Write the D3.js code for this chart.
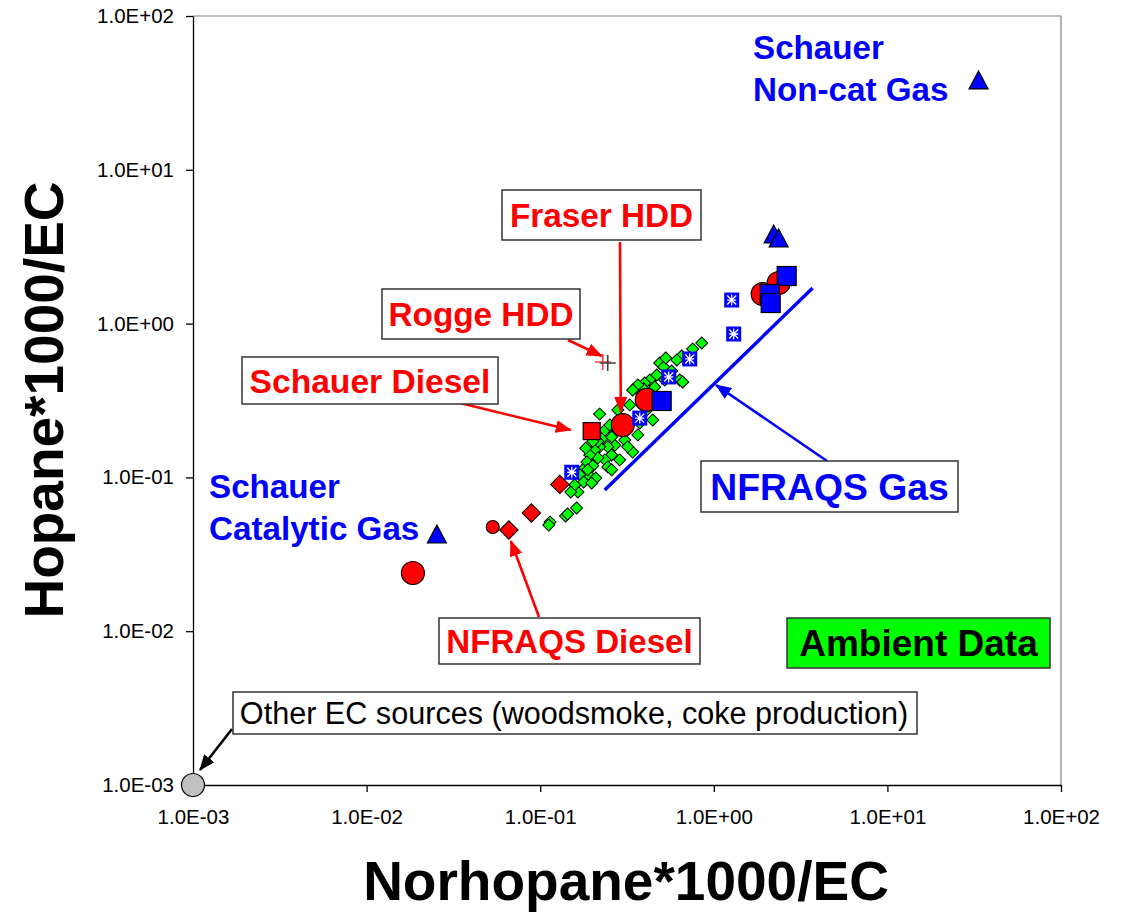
<!DOCTYPE html>
<html>
<head>
<meta charset="utf-8">
<script src="https://cdn.jsdelivr.net/npm/d3@7"></script>
<style>
  body { margin: 0; background: #fff; }
  text { font-family: "Liberation Sans", Arial, sans-serif; }
</style>
</head>
<body>
<svg id="chart" width="1122" height="914"></svg>
<script>
// ---- data (norhopane*1000/EC, hopane*1000/EC) ----
const tickValues = [1e-3, 1e-2, 1e-1, 1, 10, 100];
const tickLabels = ["1.0E-03", "1.0E-02", "1.0E-01", "1.0E+00", "1.0E+01", "1.0E+02"];

const ambient = [
  [0.852,0.748],[0.756,0.683],[0.653,0.615],[0.612,0.580],[0.488,0.555],[0.515,0.522],
  [0.636,0.430],[0.572,0.492],[0.469,0.463],[0.428,0.430],[0.400,0.411],[0.355,0.381],
  [0.395,0.376],[0.457,0.387],[0.445,0.236],[0.365,0.189],[0.341,0.146],[0.220,0.258],
  [0.280,0.274],[0.375,0.226],[0.307,0.175],[0.269,0.162],[0.245,0.158],[0.220,0.158],
  [0.206,0.151],[0.258,0.140],[0.287,0.130],[0.236,0.130],[0.215,0.134],[0.193,0.140],
  [0.186,0.126],[0.201,0.119],[0.245,0.117],[0.176,0.112],[0.193,0.102],[0.169,0.104],
  [0.178,0.0934],[0.165,0.0804],[0.162,0.0633],[0.140,0.0561],[0.144,0.0578],[0.114,0.0512],
  [0.112,0.0490],[0.307,0.213],[0.328,0.296],[0.416,0.343],[0.522,0.430],[0.411,0.274],
  [0.269,0.197],[0.229,0.180],[0.215,0.172],[0.258,0.112],[0.158,0.0892],[0.183,0.155],
  [0.201,0.172],[0.236,0.203],[0.258,0.183],[0.319,0.158],[0.252,0.219],[0.188,0.112],
  [0.209,0.099],[0.150,0.0804],[0.198,0.092],[0.529,0.598],[0.662,0.417],[0.365,0.399],
  [0.341,0.370]
];
const nfraqsDiesel = [[0.0660,0.0455],[0.0889,0.0587],[0.1297,0.0900]];
const otherDiesel = [[0.0533,0.0476]];
const schauerDiesel = [[0.198,0.200]];
const fraserHDD = [[0.299,0.219],[0.411,0.319],[2.364,1.836],[1.912,1.557],[0.01848,0.0239]];
const roggeHDD = [[0.2293,0.563]];
const roggeHDD2 = [[0.245,0.555]];
const nfraqsGas = [[0.152,0.108],[0.3745,0.243],[0.550,0.450],[0.7265,0.589],[1.302,0.856],[1.268,1.423]];
const gasLarge = [[0.501,0.314],[2.629,2.039],[2.098,1.557],[2.127,1.361]];
const schauerGas = [[33.5,36.7],[0.02539,0.04098],[2.213,3.657],[2.364,3.444]];
const otherEC = [[0.001,0.001]];
const nfraqsGasLine = [[0.2354,0.0828],[3.710,1.704]];

// ---- layout ----
const svg = d3.select("#chart");
const x = d3.scaleLog().domain([1e-3, 1e2]).range([193, 1061]);
const y = d3.scaleLog().domain([1e-3, 1e2]).range([785, 16]);

// plot frame (top & right in grey)
svg.append("path")
  .attr("d", `M${x(1e-3)},${y(1e2)}H${x(1e2)}V${y(1e-3)}`)
  .attr("fill", "none").attr("stroke", "#808080").attr("stroke-width", 1.2);

const yAxis = svg.append("g")
  .attr("transform", `translate(${x(1e-3)},0)`)
  .call(d3.axisLeft(y).tickValues(tickValues).tickFormat((d, i) => tickLabels[i])
    .tickSize(7).tickSizeOuter(0).tickPadding(12));
const xAxis = svg.append("g")
  .attr("transform", `translate(0,${y(1e-3)})`)
  .call(d3.axisBottom(x).tickValues(tickValues).tickFormat((d, i) => tickLabels[i])
    .tickSize(7).tickSizeOuter(0).tickPadding(17));
[xAxis, yAxis].forEach(g => {
  g.selectAll("path,line").attr("stroke", "#000").attr("stroke-width", 1.3);
  g.selectAll("text").attr("font-size", 20.5).attr("fill", "#000")
    .style("font-family", "'Liberation Sans', Arial, sans-serif");
});

// axis titles
svg.append("text")
  .attr("transform", "translate(63,400) rotate(-90)")
  .attr("text-anchor", "middle").attr("font-weight", "bold").attr("font-size", 55)
  .text("Hopane*1000/EC");
svg.append("text")
  .attr("x", 626).attr("y", 900)
  .attr("text-anchor", "middle").attr("font-weight", "bold").attr("font-size", 55)
  .text("Norhopane*1000/EC");

// ---- marks ----
const plot = svg.append("g");
const pos = d => `translate(${x(d[0])},${y(d[1])})`;

function diamonds(data, area, fill) {
  plot.selectAll(null).data(data).enter().append("path")
    .attr("d", d3.symbol(d3.symbolSquare, area)())
    .attr("transform", d => pos(d) + " rotate(45)")
    .attr("fill", fill).attr("stroke", "#000").attr("stroke-width", 1);
}
function squares(data, side, fill) {
  plot.selectAll(null).data(data).enter().append("rect")
    .attr("x", d => x(d[0]) - side / 2).attr("y", d => y(d[1]) - side / 2)
    .attr("width", side).attr("height", side)
    .attr("fill", fill).attr("stroke", "#000").attr("stroke-width", 1.2);
}
function circles(data, r, fill) {
  plot.selectAll(null).data(data).enter().append("circle")
    .attr("cx", d => x(d[0])).attr("cy", d => y(d[1])).attr("r", r)
    .attr("fill", fill).attr("stroke", "#000").attr("stroke-width", 1.2);
}

diamonds(ambient, 72, "#00ff00");
diamonds(nfraqsDiesel, 170, "#ff0000");
circles(otherDiesel, 6.5, "#ff0000");
squares(schauerDiesel, 17, "#ff0000");
circles(fraserHDD, 11.5, "#ff0000");
squares(gasLarge, 19, "#0000ff");

// NFRAQS gasoline: blue square with white asterisk
const ast = plot.selectAll(null).data(nfraqsGas).enter().append("g").attr("transform", pos);
ast.append("rect").attr("x", -7.5).attr("y", -7.5).attr("width", 15).attr("height", 15).attr("fill", "#0000ff");
ast.append("path")
  .attr("d", "M0,-5.5V5.5M-4.5,-4.5L4.5,4.5M4.5,-4.5L-4.5,4.5M-4.5,0H4.5")
  .attr("stroke", "#fff").attr("stroke-width", 1.3);

// Schauer gasoline: triangles
plot.selectAll(null).data(schauerGas).enter().append("path")
  .attr("transform", pos)
  .attr("d", "M0,-12L9.5,6H-9.5Z")
  .attr("fill", "#0000ff").attr("stroke", "#000").attr("stroke-width", 1.2);

// Rogge HDD: plus marks
plot.selectAll(null).data(roggeHDD).enter().append("path")
  .attr("transform", pos).attr("d", "M-8,0H8M0,-8V8")
  .attr("stroke", "#ff4040").attr("stroke-width", 1.6);
plot.selectAll(null).data(roggeHDD2).enter().append("path")
  .attr("transform", pos).attr("d", "M-8,0H8M0,-8V8")
  .attr("stroke", "#404040").attr("stroke-width", 1.6);

// other EC sources
circles(otherEC, 11.5, "#c0c0c0");

// NFRAQS gasoline trend line
plot.append("path")
  .attr("d", d3.line().x(d => x(d[0])).y(d => y(d[1]))(nfraqsGasLine))
  .attr("stroke", "#0000ff").attr("stroke-width", 3.4).attr("fill", "none");

// ---- annotations ----
const defs = svg.append("defs");
function marker(id, color) {
  defs.append("marker").attr("id", id).attr("markerUnits", "userSpaceOnUse")
    .attr("viewBox", "0 -7 16 14").attr("refX", 15).attr("refY", 0)
    .attr("markerWidth", 16).attr("markerHeight", 14).attr("orient", "auto")
    .append("path").attr("d", "M0,-6.5L16,0L0,6.5Z").attr("fill", color);
}
marker("arR", "#ff0000");
marker("arB", "#0000ff");
marker("arK", "#000");

function arrow(x1, y1, x2, y2, color, id) {
  svg.append("line").attr("x1", x1).attr("y1", y1).attr("x2", x2).attr("y2", y2)
    .attr("stroke", color).attr("stroke-width", 2.6).attr("marker-end", `url(#${id})`);
}
function box(x0, y0, w, h, label, color, size, fill) {
  svg.append("rect").attr("x", x0).attr("y", y0).attr("width", w).attr("height", h)
    .attr("fill", fill || "#fff").attr("stroke", "#333").attr("stroke-width", 1.5);
  svg.append("text").attr("x", x0 + w / 2).attr("y", y0 + h / 2 + size * 0.36)
    .attr("text-anchor", "middle").attr("font-weight", "bold").attr("font-size", size)
    .attr("fill", color).text(label);
}

arrow(620, 242, x(fraserHDD[0][0]) - 2, y(fraserHDD[0][1]) - 13, "#ff0000", "arR");
arrow(568, 340, x(roggeHDD[0][0]) - 1, y(roggeHDD[0][1]) - 6, "#ff0000", "arR");
arrow(460, 403, x(schauerDiesel[0][0]) - 21, y(schauerDiesel[0][1]) - 1, "#ff0000", "arR");
arrow(539, 617, x(nfraqsDiesel[0][0]) + 2, y(nfraqsDiesel[0][1]) + 11, "#ff0000", "arR");
arrow(827, 461, 716, 385, "#0000ff", "arB");
arrow(232, 729, x(otherEC[0][0]) + 7, y(otherEC[0][1]) - 15, "#000", "arK");

box(502, 190, 199, 50, "Fraser HDD", "#ff0000", 33.3);
box(382, 289, 198, 50, "Rogge HDD", "#ff0000", 33.3);
box(242, 357, 256, 47, "Schauer Diesel", "#ff0000", 33.6);
box(439, 618, 261, 46, "NFRAQS Diesel", "#ff0000", 33.1);
box(701, 461, 257, 51, "NFRAQS Gas", "#0000ff", 37.3);
box(787, 618, 263, 50, "Ambient Data", "#000", 37, "#00ff00");

// other EC sources label (regular weight)
svg.append("rect").attr("x", 233).attr("y", 692).attr("width", 684).attr("height", 42)
  .attr("fill", "#fff").attr("stroke", "#333").attr("stroke-width", 1.5);
svg.append("text").attr("x", 574).attr("y", 724).attr("text-anchor", "middle")
  .attr("font-size", 30.6).attr("fill", "#000")
  .text("Other EC sources (woodsmoke, coke production)");

// free-standing source labels
function label(x0, lines, y0) {
  const t = svg.append("text").attr("x", x0).attr("y", y0)
    .attr("font-weight", "bold").attr("font-size", 33.2).attr("fill", "#0000ff");
  lines.forEach((s, i) => t.append("tspan").attr("x", x0).attr("dy", i ? 42 : 0).text(s));
}
label(753, ["Schauer", "Non-cat Gas"], 59);
label(209, ["Schauer", "Catalytic Gas"], 498);
</script>
</body>
</html>
